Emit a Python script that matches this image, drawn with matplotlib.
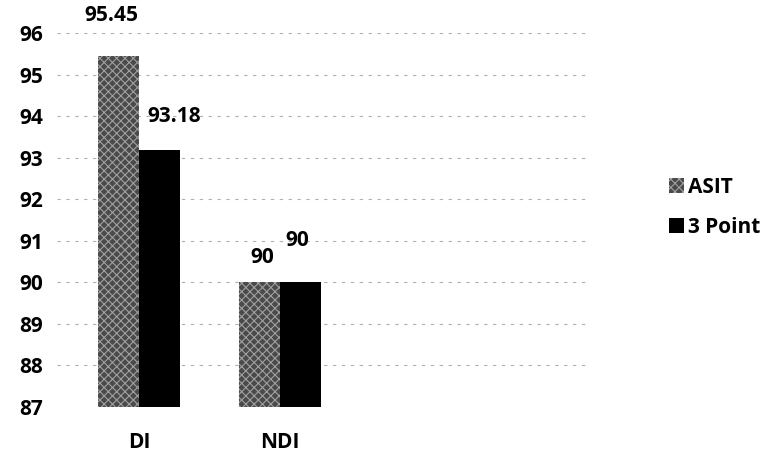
import numpy as np
import matplotlib.pyplot as plt

categories = ['DI', 'NDI']
asit = [95.45, 90]
three_point = [93.18, 90]
asit_labels = ['95.45', '90']
three_labels = ['93.18', '90']
yticks = [87, 88, 89, 90, 91, 92, 93, 94, 95, 96]

plt.rcParams['font.family'] = ['Open Sans', 'DejaVu Sans']
plt.rcParams['hatch.linewidth'] = 0.8

fig = plt.figure(figsize=(7.83, 4.66), dpi=100)
ax = fig.add_axes([0.073, 0.127, 0.68, 0.802])

x = np.arange(len(categories))
w = 0.29
b1 = ax.bar(x - w / 2, np.array(asit) - 87, w, bottom=87, color='#4a4a4a',
            edgecolor='#a0a0a0', hatch='xxxx', linewidth=0, label='ASIT', zorder=3)
b2 = ax.bar(x + w / 2, np.array(three_point) - 87, w, bottom=87, color='black',
            label='3 Point', zorder=3)

# value labels, placed by hand like in the original
offs1 = [(-5, 29), (2, 18)]
offs2 = [(11, 24), (-2, 30)]
for i in range(len(categories)):
    ax.annotate(asit_labels[i], (x[i] - w / 2, asit[i]), xytext=offs1[i],
                textcoords='offset points', ha='center', va='center',
                fontsize=15, fontweight='bold', annotation_clip=False)
    ax.annotate(three_labels[i], (x[i] + w / 2, three_point[i]), xytext=offs2[i],
                textcoords='offset points', ha='center', va='center',
                fontsize=15, fontweight='bold', annotation_clip=False)

ax.set_ylim(87, 96)
ax.set_xlim(-0.58, 3.2)
ax.set_yticks(yticks)
ax.set_yticklabels([str(t) for t in yticks], fontsize=15, fontweight='bold')
ax.set_xticks(x)
ax.set_xticklabels(categories, fontsize=15, fontweight='bold')
ax.tick_params(length=0, pad=10)
ax.tick_params(axis='x', pad=18)
ax.grid(axis='y', color='#b0b0b0', linestyle=(0, (3, 5)), linewidth=0.8, zorder=0)
for s in ax.spines.values():
    s.set_visible(False)

fig.legend(handles=[b1, b2], loc='center left', bbox_to_anchor=(0.855, 0.555),
           frameon=False, prop={'weight': 'bold', 'size': 15},
           handlelength=0.7, handleheight=0.7, handletextpad=0.2, labelspacing=0.9,
           borderpad=0, borderaxespad=0)

fig.savefig('out.png', dpi=100)
